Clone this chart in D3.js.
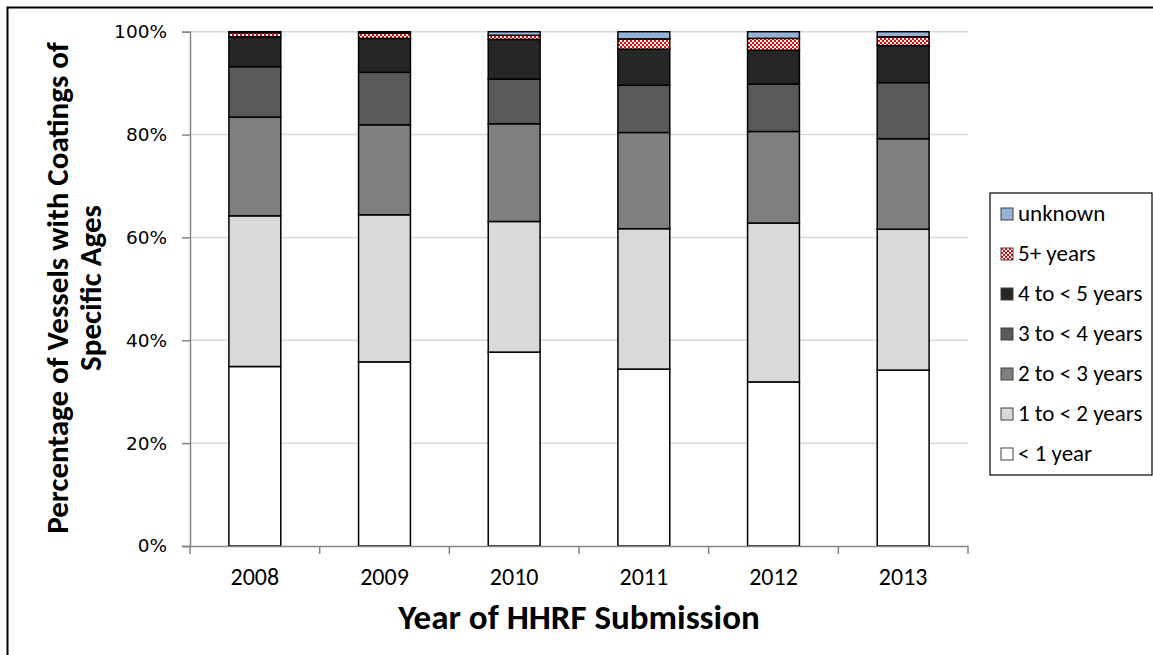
<!DOCTYPE html>
<html>
<head>
<meta charset="utf-8">
<script src="https://cdn.jsdelivr.net/npm/d3@7"></script>
<style>
  body { margin: 0; background: #fff; }
  .axis text { fill: #000; }
</style>
</head>
<body>
<div id="chart"></div>
<script>
// values (percent of vessels)
var years = ["2008", "2009", "2010", "2011", "2012", "2013"];
var lessThan1 = [34.9, 35.8, 37.7, 34.4, 31.9, 34.2];
var oneToTwo = [29.3, 28.6, 25.4, 27.3, 30.9, 27.4];
var twoToThree = [19.2, 17.5, 19.0, 18.7, 17.8, 17.6];
var threeToFour = [9.8, 10.2, 8.7, 9.2, 9.2, 10.9];
var fourToFive = [5.8, 6.6, 7.7, 7.0, 6.6, 7.2];
var fivePlus = [0.8, 1.0, 0.8, 2.0, 2.3, 1.7];
var unknown = [0.2, 0.3, 0.7, 1.4, 1.3, 1.0];
var seriesNames = ["< 1 year", "1 to < 2 years", "2 to < 3 years", "3 to < 4 years", "4 to < 5 years", "5+ years", "unknown"];
var yTicks = [0, 20, 40, 60, 80, 100];

var w = 1153, h = 655;
var plotLeft = 190, plotRight = 968, plotTop = 31.7, plotBottom = 546;
var condensed = "Carlito, 'Liberation Sans Narrow', 'Open Sans', sans-serif";

var data = years.map(function(y, i) {
  return {
    year: y,
    s0: lessThan1[i], s1: oneToTwo[i], s2: twoToThree[i], s3: threeToFour[i],
    s4: fourToFive[i], s5: fivePlus[i], s6: unknown[i]
  };
});
var keys = ["s0", "s1", "s2", "s3", "s4", "s5", "s6"];
var stacked = d3.stack().keys(keys)(data);

var svg = d3.select("#chart").append("svg")
  .attr("width", w)
  .attr("height", h);

// checker pattern for 5+ years
var pat = svg.append("defs").append("pattern")
  .attr("id", "checker")
  .attr("width", 4).attr("height", 4)
  .attr("patternUnits", "userSpaceOnUse");
pat.append("rect").attr("width", 4).attr("height", 4).attr("fill", "#ff0000");
pat.append("rect").attr("width", 2).attr("height", 2).attr("fill", "#fff");
pat.append("rect").attr("x", 2).attr("y", 2).attr("width", 2).attr("height", 2).attr("fill", "#fff");

var fills = ["#ffffff", "#d9d9d9", "#7f7f7f", "#595959", "#262626", "url(#checker)", "#95b3d7"];
var color = d3.scaleOrdinal().domain(keys).range(fills);

// outer frame
svg.append("rect")
  .attr("x", 7.5).attr("y", 7.5)
  .attr("width", w + 20).attr("height", h + 20)
  .attr("fill", "none").attr("stroke", "#000").attr("stroke-width", 2);

var xscale = d3.scaleBand()
  .domain(years)
  .range([plotLeft, plotRight])
  .paddingInner(0.6)
  .paddingOuter(0.3);

var yscale = d3.scaleLinear()
  .domain([0, 100])
  .range([plotBottom, plotTop]);

// gridlines
svg.append("g")
  .selectAll("line")
  .data(yTicks.slice(1))
  .enter()
  .append("line")
    .attr("x1", plotLeft).attr("x2", plotRight)
    .attr("y1", d => yscale(d)).attr("y2", d => yscale(d))
    .attr("stroke", "#d9d9d9").attr("stroke-width", 1.5);

// y axis
var yaxis = d3.axisLeft(yscale)
  .tickValues(yTicks)
  .tickSize(8)
  .tickPadding(15)
  .tickFormat(d => d + "%");
var gy = svg.append("g")
  .attr("class", "axis y")
  .attr("transform", "translate(" + plotLeft + ",0)")
  .call(yaxis);
gy.select(".domain").attr("stroke", "#868686").attr("stroke-width", 1.5);
gy.selectAll(".tick line").attr("stroke", "#868686").attr("stroke-width", 1.5);
gy.selectAll("text").attr("font-family", "'DejaVu Sans', sans-serif").attr("font-size", 18.5);

// bars
svg.selectAll("g.series")
  .data(stacked)
  .enter()
  .append("g")
    .attr("class", "series")
    .attr("fill", d => color(d.key))
  .selectAll("rect")
  .data(d => d)
  .enter()
  .append("rect")
    .attr("x", d => xscale(d.data.year))
    .attr("y", d => yscale(d[1]))
    .attr("width", xscale.bandwidth())
    .attr("height", d => yscale(d[0]) - yscale(d[1]))
    .attr("stroke", "#000")
    .attr("stroke-width", 1.5);

// x axis
var xaxis = d3.axisBottom(xscale).tickSize(0).tickPadding(22);
var gx = svg.append("g")
  .attr("class", "axis x")
  .attr("transform", "translate(0," + plotBottom + ")")
  .call(xaxis);
gx.select(".domain").attr("stroke", "#868686").attr("stroke-width", 1.5);
gx.selectAll("text").attr("font-family", condensed).attr("font-size", 24);

// category boundary ticks
var step = xscale.step();
var bounds = d3.range(years.length + 1).map(i => plotLeft + i * step);
gx.selectAll("line.bound")
  .data(bounds)
  .enter()
  .append("line")
    .attr("class", "bound")
    .attr("x1", d => d).attr("x2", d => d)
    .attr("y1", 0).attr("y2", 8)
    .attr("stroke", "#868686").attr("stroke-width", 1.5);

// axis titles
svg.append("text")
  .attr("x", (plotLeft + plotRight) / 2)
  .attr("y", 629)
  .attr("text-anchor", "middle")
  .attr("font-family", condensed)
  .attr("font-weight", "bold")
  .attr("font-size", 35)
  .text("Year of HHRF Submission");

var ytitle = svg.append("text")
  .attr("transform", "translate(68,288) rotate(-90)")
  .attr("text-anchor", "middle")
  .attr("font-family", condensed)
  .attr("font-weight", "bold")
  .attr("font-size", 31);
ytitle.append("tspan").attr("x", 0).attr("y", 0).text("Percentage of Vessels with Coatings of");
ytitle.append("tspan").attr("x", 0).attr("y", 33).text("Specific Ages");

// legend
var legend = svg.append("g").attr("transform", "translate(990,193)");
legend.append("rect")
  .attr("width", 162).attr("height", 282)
  .attr("fill", "#fff").attr("stroke", "#000").attr("stroke-width", 1.2);
var legendKeys = keys.slice().reverse();
var item = legend.selectAll("g.item")
  .data(legendKeys)
  .enter()
  .append("g")
    .attr("class", "item")
    .attr("transform", (d, i) => "translate(11," + (21 + i * 40) + ")");
item.append("rect")
  .attr("x", 0).attr("y", -6)
  .attr("width", 12).attr("height", 12)
  .attr("fill", d => color(d))
  .attr("stroke", "#404040").attr("stroke-width", 1);
item.append("text")
  .attr("x", 17).attr("y", 7)
  .attr("font-family", condensed)
  .attr("font-size", 23)
  .text(d => seriesNames[keys.indexOf(d)]);
</script>
</body>
</html>
